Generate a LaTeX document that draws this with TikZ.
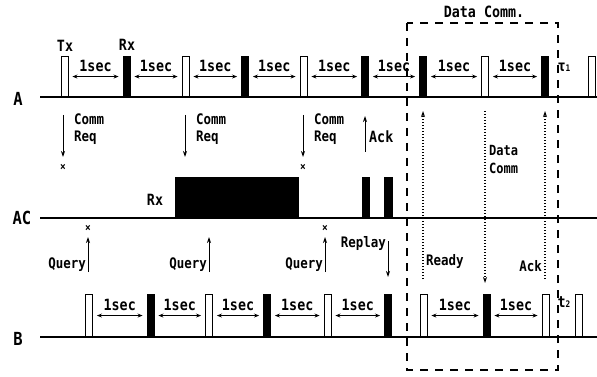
\documentclass[tikz,border=0pt]{standalone}
\usepackage{fontspec}
\setmainfont{DejaVu Sans Mono}[FakeStretch=0.86]
\usetikzlibrary{arrows.meta,calc}
\begin{document}
\begin{tikzpicture}[x=1pt,y=-1pt,
  lbl/.style={inner sep=0pt,font=\fontsize{15.5}{16}\selectfont\bfseries},
  sml/.style={inner sep=0pt,font=\fontsize{14.5}{17}\selectfont\bfseries},
  big/.style={inner sep=0pt,font=\fontsize{18}{18}\selectfont\bfseries},
  hp/.style={draw,line width=0.9pt,fill=white,minimum width=7pt,inner sep=0pt,anchor=south},
  fp/.style={draw,fill=black,line width=0.9pt,minimum width=7pt,inner sep=0pt,anchor=south},
  pa/.style={minimum height=40pt},
  pb/.style={minimum height=42pt},
  base/.style={line width=1.3pt},
  sec/.style={{Stealth[length=5pt,width=4pt]}-{Stealth[length=5pt,width=4pt]},line width=0.9pt},
  sig/.style={-{Stealth[length=6pt,width=4pt]},line width=0.9pt},
  dsig/.style={-{Stealth[length=6pt,width=4pt]},line width=1.4pt,dash pattern=on 1.4pt off 1.6pt},
  xm/.style={inner sep=0pt,font=\fontsize{11}{11}\selectfont\bfseries}]
\useasboundingbox (0,0) rectangle (597,377);
% baselines
\coordinate (Al) at (40,97); \coordinate (Ar) at (597,97);
\coordinate (ACl) at (40,218); \coordinate (ACr) at (597,218);
\coordinate (Bl) at (40,337); \coordinate (Br) at (597,337);
\draw[base] (Al) -- (Ar);
\draw[base] (ACl) -- (ACr);
\draw[base] (Bl) -- (Br);
\node[big] (labA) at (18,99) {A};
\node[big] (labAC) at (22,218) {AC};
\node[big] (labB) at (18,339) {B};
% row A pulses
\node[hp,pa] (a1) at (64.5,97) {};
\node[fp,pa] (a2) at (126.5,97) {};
\node[hp,pa] (a3) at (185.5,97) {};
\node[fp,pa] (a4) at (245,97) {};
\node[hp,pa] (a5) at (303.5,97) {};
\node[fp,pa] (a6) at (365,97) {};
\node[fp,pa] (a7) at (423,97) {};
\node[hp,pa] (a8) at (485,97) {};
\node[fp,pa] (a9) at (545,97) {};
\node[hp,pa] (a10) at (592,97) {};
\node[lbl] (tx) at (65,46) {Tx};
\node[lbl] (rx) at (127,45) {Rx};
\foreach \p/\q in {a1/a2,a2/a3,a3/a4,a4/a5,a5/a6,a6/a7,a7/a8,a8/a9}{
  \draw[sec] ([xshift=4pt]\p.east) -- node[lbl,above=4pt] {1sec} ([xshift=-4pt]\q.west);
}
\node[lbl] (tau1) at (564,67) {τ{\fontsize{9}{9}\selectfont 1}};
% row B pulses
\node[hp,pb] (b1) at (89,337) {};
\node[fp,pb] (b2) at (150.5,337) {};
\node[hp,pb] (b3) at (209,337) {};
\node[fp,pb] (b4) at (267,337) {};
\node[hp,pb] (b5) at (327.5,337) {};
\node[fp,pb] (b6) at (388,337) {};
\node[hp,pb] (b7) at (423.5,337) {};
\node[fp,pb] (b8) at (486.5,337) {};
\node[hp,pb] (b9) at (545.5,337) {};
\node[hp,pb] (b10) at (578.5,337) {};
\foreach \p/\q in {b1/b2,b2/b3,b3/b4,b4/b5,b5/b6,b7/b8,b8/b9}{
  \draw[sec] ([xshift=4pt]\p.east) -- node[lbl,above=4pt] {1sec} ([xshift=-4pt]\q.west);
}
\node[lbl] (t2) at (564,302) {t{\fontsize{9}{9}\selectfont 2}};
% AC row
\node[draw,fill=black,inner sep=0pt,minimum width=123pt,minimum height=41pt,anchor=south west] (blk) at (175,218) {};
\node[draw,fill=black,inner sep=0pt,minimum width=7pt,minimum height=41pt,anchor=south west] (bar1) at (362,218) {};
\node[draw,fill=black,inner sep=0pt,minimum width=8pt,minimum height=41pt,anchor=south west] (bar2) at (384,218) {};
\node[lbl] (rxac) at (155,200) {Rx};
% Comm Req arrows
\foreach \n/\x in {1/63,2/185,3/303}{
  \coordinate (cr\n s) at (\x,115);
  \coordinate (cr\n e) at (\x,157);
  \draw[sig] (cr\n s) -- (cr\n e);
  \node[sml,anchor=north west,align=left] (crt\n) at (\x+11,114) {Comm\\Req};
}
\node[xm] (x1) at (63,167) {×};
\node[xm] (x2) at (303,167) {×};
% Ack up
\coordinate (acks) at (365,152); \coordinate (acke) at (365,116);
\draw[sig] (acks) -- (acke);
\node[lbl,anchor=west] (ackt) at (369,137) {Ack};
% Query arrows
\foreach \n/\x in {1/88,2/209,3/325}{
  \coordinate (q\n s) at (\x,272);
  \coordinate (q\n e) at (\x,237);
  \draw[sig] (q\n s) -- (q\n e);
  \node[sml,anchor=east] (qt\n) at (\x-2,265) {Query};
}
\node[xm] (x3) at (88,228) {×};
\node[xm] (x4) at (325,228) {×};
% Replay
\coordinate (rps) at (388,241); \coordinate (rpe) at (388,277);
\draw[sig] (rps) -- (rpe);
\node[sml,anchor=east] (rpt) at (386,243) {Replay};
% dotted data comm arrows
\coordinate (rdys) at (423,279); \coordinate (rdye) at (423,111);
\draw[dsig] (rdys) -- (rdye);
\node[sml,anchor=west] (rdyt) at (426,261) {Ready};
\coordinate (dcs) at (485,111); \coordinate (dce) at (485,283);
\draw[dsig] (dcs) -- (dce);
\node[sml,anchor=west,align=left,font=\fontsize{14}{18}\selectfont\bfseries] (dct) at (489,159) {Data\\Comm};
\coordinate (ak2s) at (545,279); \coordinate (ak2e) at (545,111);
\draw[dsig] (ak2s) -- (ak2e);
\node[sml,anchor=east] (ak2t) at (542,266) {Ack};
% Data Comm box
\coordinate (bx1) at (407,23); \coordinate (bx2) at (558,370);
\draw[line width=1.2pt,dash pattern=on 8pt off 7pt] (bx1) rectangle (bx2);
\node[lbl,fill=white,inner sep=1pt] (dctitle) at (484,12) {Data Comm.};
\end{tikzpicture}
\end{document}
